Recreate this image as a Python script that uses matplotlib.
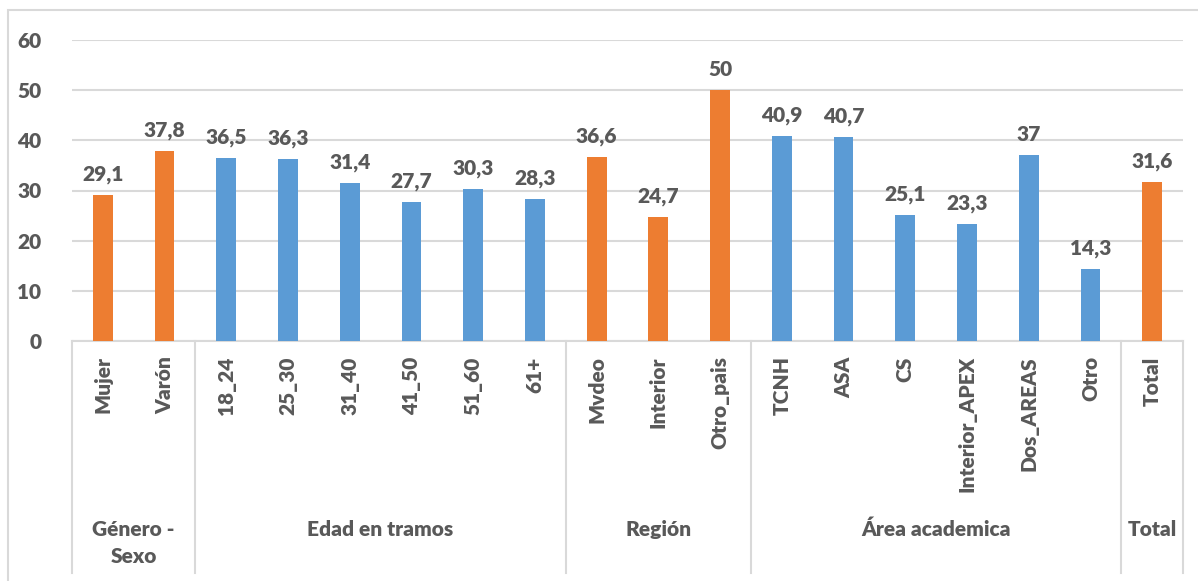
import matplotlib.pyplot as plt
import matplotlib.transforms as mtransforms
from matplotlib.patches import Rectangle

# data
categories = ["Mujer", "Varón", "18_24", "25_30", "31_40", "41_50", "51_60", "61+",
              "Mvdeo", "Interior", "Otro_pais", "TCNH", "ASA", "CS", "Interior_APEX",
              "Dos_AREAS", "Otro", "Total"]
values = [29.1, 37.8, 36.5, 36.3, 31.4, 27.7, 30.3, 28.3,
          36.6, 24.7, 50, 40.9, 40.7, 25.1, 23.3, 37, 14.3, 31.6]
groups = ["Género -\nSexo", "Edad en tramos", "Región", "Área academica", "Total"]
group_sizes = [2, 6, 3, 6, 1]
orange_groups = ["Género -\nSexo", "Región", "Total"]

ORANGE = "#ED7D31"
BLUE = "#5B9BD5"
TXT = "#595959"
GRID = "#D9D9D9"
FS = 15

plt.rcParams['font.family'] = ['Lato', 'DejaVu Sans']
plt.rcParams['font.weight'] = 'heavy'

fig = plt.figure(figsize=(11.98, 5.81), dpi=100)
ax = fig.add_axes([72 / 1198, 1 - 341 / 581, (1183 - 72) / 1198, 301 / 581])

# outer frame
fig.patches.append(Rectangle((8 / 1198, -0.05), 1.1, 1 - 10 / 581 + 0.05,
                             transform=fig.transFigure, fill=False,
                             edgecolor=GRID, linewidth=1.5))

colors = []
for g, n in zip(groups, group_sizes):
    colors += [ORANGE if g in orange_groups else BLUE] * n

x = list(range(len(categories)))
ax.bar(x, values, width=0.32, color=colors, zorder=3)

for xi, v in zip(x, values):
    ax.annotate(f"{v:g}".replace(".", ","), (xi, v), xytext=(0, 8),
                textcoords="offset points", ha="center", va="bottom",
                fontsize=FS, color=TXT, fontweight="heavy")

ax.set_xlim(-0.5, len(categories) - 0.5)
ax.set_ylim(0, 60)
ax.set_yticks(range(0, 61, 10))
ax.yaxis.grid(True, color=GRID, linewidth=1.5, zorder=0)
ax.set_axisbelow(True)
for s in ["top", "right", "left"]:
    ax.spines[s].set_visible(False)
ax.spines["bottom"].set_color(GRID)
ax.spines["bottom"].set_linewidth(1.5)
ax.tick_params(axis="y", length=0, pad=22, labelsize=FS, labelcolor=TXT)
ax.tick_params(axis="x", length=0, pad=11, labelsize=FS, labelcolor=TXT)
ax.set_xticks(x)
ax.set_xticklabels(categories, rotation=90, va="top")

# group separators and labels
trans = mtransforms.blended_transform_factory(ax.transData, ax.transAxes)
bounds = [-0.5]
for n in group_sizes:
    bounds.append(bounds[-1] + n)
for b in bounds:
    ax.plot([b, b], [0, -0.771], transform=trans, color=GRID, linewidth=1.5,
            clip_on=False)
for g, a, b in zip(groups, bounds[:-1], bounds[1:]):
    yy = -0.671 if "\n" in g else -0.625
    ax.text((a + b) / 2, yy, g, transform=trans, ha="center", va="center",
            fontsize=FS, color=TXT, fontweight="heavy", linespacing=1.5)

fig.savefig("out.png", dpi=100)
